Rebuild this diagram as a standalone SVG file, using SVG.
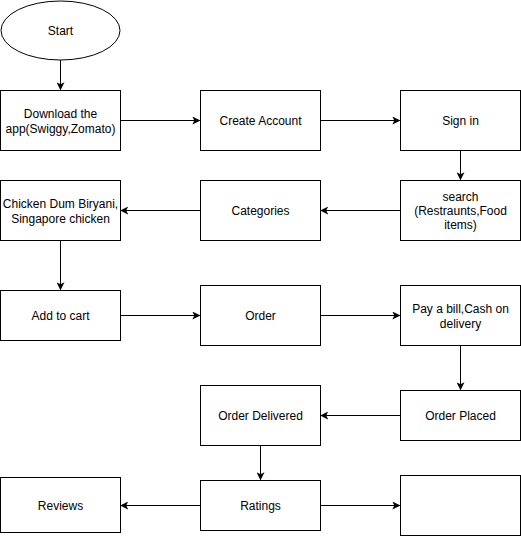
<svg xmlns="http://www.w3.org/2000/svg" width="521" height="536" viewBox="0 0 521 536">
<defs>
<marker id="arr" viewBox="0 0 10 10" refX="9" refY="5" markerWidth="8" markerHeight="8" markerUnits="userSpaceOnUse" orient="auto">
<path d="M0,0 L10,5 L0,10 L2.5,5 Z" fill="#000"/>
</marker>
<style>
.n{fill:#fff;stroke:#000;stroke-width:1}
.t{font-family:"Liberation Sans",Arial,sans-serif;font-size:12px;fill:#000;text-anchor:middle}
.c{stroke:#000;stroke-width:1;fill:none;marker-end:url(#arr)}
</style>
</defs>
<rect width="521" height="536" fill="#fff"/>
<g id="connectors">
<line class="c" x1="60.5" y1="60" x2="60.5" y2="89.5"/>
<line class="c" x1="120.5" y1="120.5" x2="199.5" y2="120.5"/>
<line class="c" x1="320.5" y1="120.5" x2="399.5" y2="120.5"/>
<line class="c" x1="460.5" y1="150.5" x2="460.5" y2="179.5"/>
<line class="c" x1="400.5" y1="210.5" x2="321" y2="210.5"/>
<line class="c" x1="200.5" y1="210.5" x2="121" y2="210.5"/>
<line class="c" x1="60.5" y1="240.5" x2="60.5" y2="289.5"/>
<line class="c" x1="120.5" y1="315.5" x2="199.5" y2="315.5"/>
<line class="c" x1="320.5" y1="315.5" x2="399.5" y2="315.5"/>
<line class="c" x1="460.5" y1="345.5" x2="460.5" y2="389.5"/>
<line class="c" x1="400.5" y1="415.5" x2="321" y2="415.5"/>
<line class="c" x1="260.5" y1="445.5" x2="260.5" y2="479.5"/>
<line class="c" x1="200.5" y1="505.5" x2="121" y2="505.5"/>
<line class="c" x1="320.5" y1="505.5" x2="399.5" y2="505.5"/>
</g>
<g id="start"><ellipse class="n" cx="60.5" cy="30.5" rx="59.5" ry="29.5"/><text class="t" x="60.5" y="35">Start</text></g>
<g id="download"><rect class="n" x="0.5" y="90.5" width="120" height="60"/><text class="t" x="60.5" y="118">Download the</text><text class="t" x="60.5" y="133">app(Swiggy,Zomato)</text></g>
<g id="create"><rect class="n" x="200.5" y="90.5" width="120" height="60"/><text class="t" x="260.5" y="125">Create Account</text></g>
<g id="signin"><rect class="n" x="400.5" y="90.5" width="120" height="60"/><text class="t" x="460.5" y="125">Sign in</text></g>
<g id="search"><rect class="n" x="400.5" y="180.5" width="120" height="60"/><text class="t" x="460.5" y="201">search</text><text class="t" x="460.5" y="215">(Restraunts,Food</text><text class="t" x="460.5" y="229">items)</text></g>
<g id="categories"><rect class="n" x="200.5" y="180.5" width="120" height="60"/><text class="t" x="260.5" y="215">Categories</text></g>
<g id="chicken"><rect class="n" x="0.5" y="180.5" width="120" height="60"/><text class="t" x="60.5" y="208">Chicken Dum Biryani,</text><text class="t" x="60.5" y="223">Singapore chicken</text></g>
<g id="cart"><rect class="n" x="0.5" y="290.5" width="120" height="50"/><text class="t" x="60.5" y="320">Add to cart</text></g>
<g id="order"><rect class="n" x="200.5" y="285.5" width="120" height="60"/><text class="t" x="260.5" y="320">Order</text></g>
<g id="pay"><rect class="n" x="400.5" y="285.5" width="120" height="60"/><text class="t" x="460.5" y="313">Pay a bill,Cash on</text><text class="t" x="460.5" y="328">delivery</text></g>
<g id="placed"><rect class="n" x="400.5" y="390.5" width="120" height="50"/><text class="t" x="460.5" y="420">Order Placed</text></g>
<g id="delivered"><rect class="n" x="200.5" y="385.5" width="120" height="60"/><text class="t" x="260.5" y="420">Order Delivered</text></g>
<g id="ratings"><rect class="n" x="200.5" y="480.5" width="120" height="50"/><text class="t" x="260.5" y="510">Ratings</text></g>
<g id="reviews"><rect class="n" x="0.5" y="477.5" width="120" height="55"/><text class="t" x="60.5" y="510">Reviews</text></g>
<g id="empty"><rect class="n" x="400.5" y="475.5" width="120" height="60"/></g>
</svg>
